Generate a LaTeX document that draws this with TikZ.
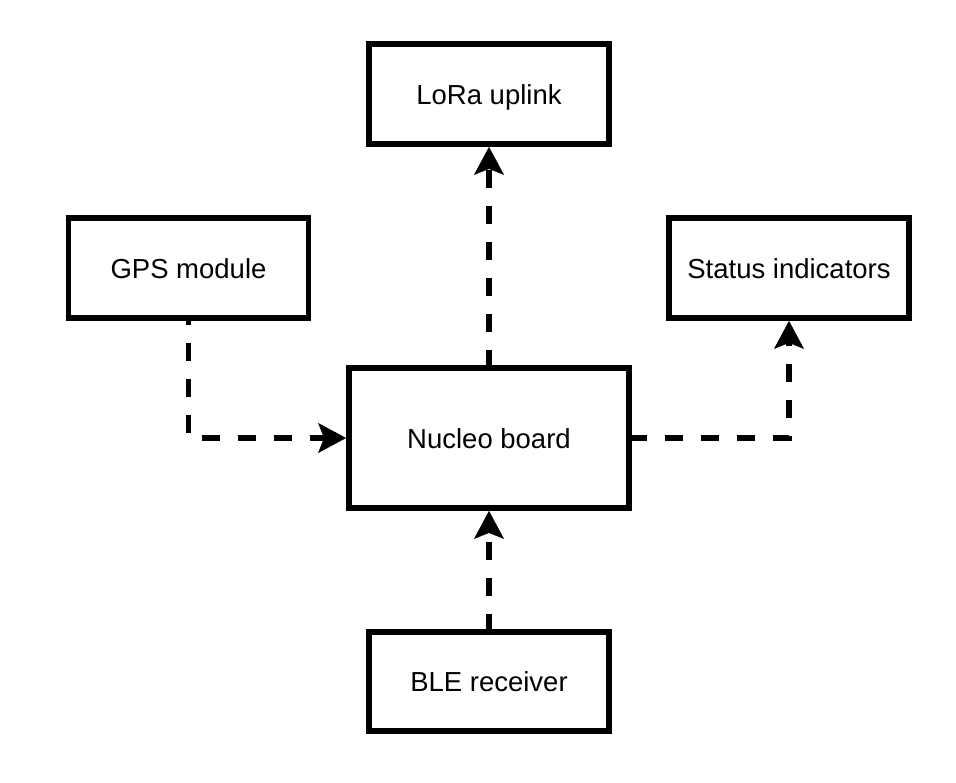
\documentclass[tikz,border=0pt]{standalone}
\usepackage{fontspec}
\setmainfont{Liberation Sans}
\usetikzlibrary{arrows.meta}
\begin{document}
\begin{tikzpicture}[x=1pt,y=-1pt,
  box/.style={draw=black, line width=5.8pt, fill=white, inner sep=0pt,
    minimum width=240pt, minimum height=100pt,
    font=\fontsize{27.5}{33}\selectfont, text height=20pt, text depth=0pt},
  conn/.style={line width=5.8pt, dash pattern=on 18pt off 18pt,
    -{Stealth[length=28pt,width=30pt,inset=6pt,line width=0.5pt]}}]
\useasboundingbox (0,0) rectangle (956,782);
\node[box] (lora) at (489,94) {LoRa uplink};
\node[box] (gps) at (188.5,268) {GPS module};
\node[box] (status) at (789,268) {Status indicators};
\node[box, minimum width=280pt, minimum height=140pt] (nucleo) at (489,438) {Nucleo board};
\node[box, minimum height=99pt] (ble) at (489,681.5) {BLE receiver};
\draw[conn, dash phase=13.8pt] (gps.south) |- (nucleo.west);
\draw[conn, dash phase=3pt] (nucleo.north) -- (lora.south);
\draw[conn, dash phase=3pt] (ble.north) -- (nucleo.south);
\draw[conn, dash phase=3pt] (nucleo.east) -| (status.south);
\end{tikzpicture}
\end{document}
